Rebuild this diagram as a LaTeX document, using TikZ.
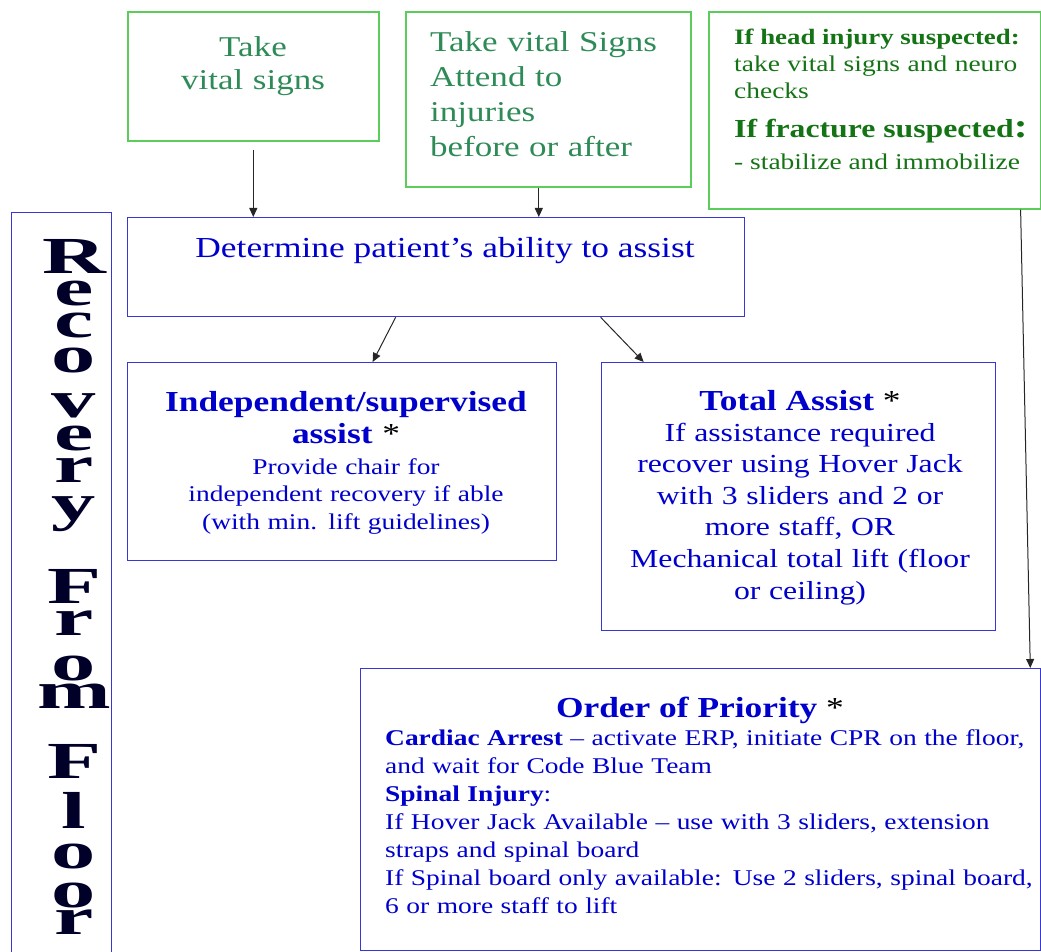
\documentclass[tikz,border=0pt]{standalone}
\usepackage{fontspec}
\setmainfont[FakeStretch=1.22]{Liberation Serif}
\newfontfamily\titlefont[FakeStretch=1.7]{Liberation Serif}
\usetikzlibrary{arrows.meta}
\definecolor{boxgreen}{RGB}{90,205,90}
\definecolor{sea}{RGB}{46,139,87}
\definecolor{leaf}{RGB}{20,115,20}
\definecolor{boxblue}{RGB}{55,55,215}
\definecolor{ink}{RGB}{0,0,205}
\definecolor{navy}{RGB}{0,0,40}
\newcommand{\notemark}{{\mdseries\color{black}*}}
\begin{document}
\begin{tikzpicture}[x=1pt,y=-1pt,inner sep=0,
		gbox/.style={draw=boxgreen,line width=1.6pt,anchor=north west},
		bbox/.style={draw=boxblue,line width=1.3pt,anchor=north west},
		gtext/.style={text=sea,font=\fontsize{28.7}{33}\selectfont},
		ltext/.style={text=leaf,font=\fontsize{22.5}{26.5}\selectfont},
		btext/.style={text=ink,font=\fontsize{22.5}{27.5}\selectfont},
		bhead/.style={text=ink,font=\bfseries\fontsize{29}{32}\selectfont},
		titleletter/.style={text=navy,anchor=base,font=\titlefont\bfseries\fontsize{52}{52}\selectfont},
		arr/.style={-{Triangle[length=9pt,width=8pt]},line width=1pt,black!85}]
		\useasboundingbox (0,0) rectangle (1041,952);
		% boxes
		\node[gbox,minimum width=251pt,minimum height=129pt] (vitals) at (127,11) {};
		\node[gbox,minimum width=285pt,minimum height=175pt] (attend) at (405,11) {};
		\node[gbox,minimum width=332pt,minimum height=197pt] (checks) at (708,11) {};
		\node[bbox,minimum width=617pt,minimum height=99pt] (ability) at (127,217) {};
		\node[bbox,minimum width=100pt,minimum height=745pt] (titlebox) at (11,212) {};
		\node[bbox,minimum width=429pt,minimum height=198pt] (indep) at (127,362) {};
		\node[bbox,minimum width=394pt,minimum height=268pt] (total) at (601,362) {};
		\node[bbox,minimum width=680pt,minimum height=282pt] (priority) at (360,668) {};
		% texts
		\node[gtext,text width=240pt,align=center,anchor=base] (vitalsT) at (253,57) {Take\\vital signs};
		\node[gtext,text width=255pt,align=left,anchor=base west,font=\fontsize{28.7}{35}\selectfont] (attendT) at (430,52)
			{Take vital Signs\\Attend to\\injuries\\before or after};
		\node[ltext,anchor=base west,font=\bfseries\fontsize{22}{26}\selectfont] (headT) at (734,45) {If head injury suspected:};
		\node[ltext,text width=300pt,align=left,anchor=base west] (headB) at (734,72) {take vital signs and neuro\\checks};
		\node[ltext,anchor=base west,font=\bfseries\fontsize{26}{30}\selectfont] (fracT) at (734,138)
			{If fracture suspected{\fontsize{34}{34}\selectfont:}};
		\node[ltext,anchor=base west] (fracB) at (734,170) {- stabilize and immobilize};
		\node[text=ink,anchor=base,font=\fontsize{29}{32}\selectfont] (abilityT) at (445,257) {Determine patient’s ability to assist};
		\node[bhead,text width=420pt,align=center,anchor=base] (indepT) at (346,411)
			{Independent/supervised\\assist \notemark};
		\node[btext,text width=420pt,align=center,anchor=base] (indepB) at (346,474)
			{Provide chair for\\independent recovery if able\\(with min. lift guidelines)};
		\node[bhead,anchor=base] (totalT) at (800,410) {Total Assist \notemark};
		\node[btext,text width=390pt,align=center,anchor=base,font=\fontsize{26}{31.6}\selectfont] (totalB) at (800,441)
			{If assistance required\\recover using Hover Jack\\with 3 sliders and 2 or\\more staff, OR\\Mechanical total lift (floor\\or ceiling)};
		\node[bhead,anchor=base] (priorityT) at (700,717) {Order of Priority \notemark};
		\node[btext,text width=665pt,align=left,anchor=base west,font=\fontsize{22.5}{28}\selectfont] (priorityB) at (385,745)
			{\textbf{Cardiac Arrest} – activate ERP, initiate CPR on the floor,\\and wait for Code Blue Team\\
			\textbf{Spinal Injury}:\\If Hover Jack Available – use with 3 sliders, extension\\straps and spinal board\\
			If Spinal board only available: Use 2 sliders, spinal board,\\6 or more staff to lift};
		% side title
		\foreach \ch/\yb [count=\k] in {R/273,e/305,c/337,o/372,v/417,e/450,r/482,y/520,
			F/603,r/635,o/680,m/708,F/778,l/828,o/868,o/907,r/934}
			\node[titleletter] (ltr\k) at (74,\yb) {\ch};
		% arrows
		\coordinate (attendout) at ([xshift=-9.5pt]attend.south);
		\draw[arr] ([yshift=-8pt]vitals.south) -- (vitals.south |- ability.north);
		\draw[arr] (attendout) -- (attendout |- ability.north);
		\draw[arr] ([xshift=-40.5pt]ability.south) -- ([xshift=30.5pt]indep.north);
		\draw[arr] ([xshift=164.5pt]ability.south) -- ([xshift=-155pt]total.north);
		\draw[arr] ([xshift=-21pt]checks.south east) -- ([xshift=-11pt]priority.north east);
\end{tikzpicture}
\end{document}
